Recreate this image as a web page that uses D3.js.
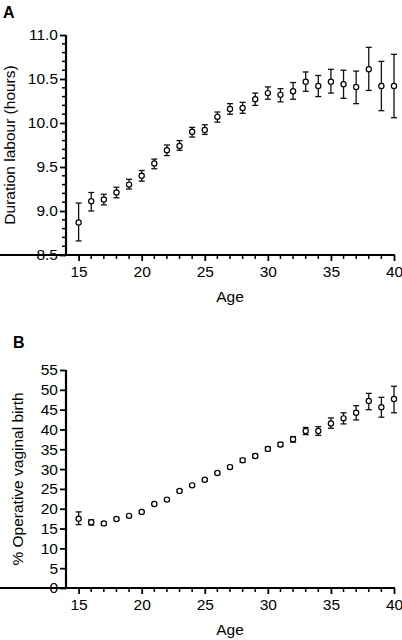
<!DOCTYPE html>
<html><head><meta charset="utf-8">
<script src="https://cdn.jsdelivr.net/npm/d3@7"></script>
<style>body{margin:0;background:#fff}svg{display:block;font-family:"Liberation Sans",Arial,sans-serif}</style>
</head><body><svg id="c" width="402" height="640"></svg>
<script>
const ages = [15,16,17,18,19,20,21,22,23,24,25,26,27,28,29,30,31,32,33,34,35,36,37,38,39,40];
const durMean = [8.87,9.11,9.13,9.21,9.30,9.40,9.54,9.69,9.74,9.90,9.92,10.07,10.16,10.17,10.27,10.34,10.32,10.36,10.47,10.42,10.47,10.44,10.41,10.61,10.42,10.42];
const durLow  = [8.66,9.00,9.07,9.15,9.25,9.34,9.48,9.63,9.69,9.84,9.87,10.01,10.10,10.11,10.20,10.27,10.24,10.27,10.36,10.30,10.34,10.28,10.22,10.37,10.14,10.06];
const durHigh = [9.09,9.21,9.19,9.27,9.36,9.46,9.59,9.75,9.80,9.95,9.98,10.125,10.22,10.235,10.34,10.41,10.39,10.46,10.58,10.54,10.61,10.60,10.59,10.86,10.70,10.78];
const ovbMean = [17.5,16.6,16.3,17.4,18.2,19.2,21.2,22.3,24.5,25.9,27.3,29.0,30.5,32.2,33.3,35.1,36.2,37.5,39.6,39.6,41.5,42.8,44.2,47.2,45.6,47.7];
const ovbLow  = [16.0,15.9,16.0,17.1,17.9,18.9,20.9,22.0,24.2,25.6,27.0,28.7,30.1,31.7,32.8,34.6,35.7,36.8,38.7,38.5,40.3,41.4,42.4,45.0,43.1,44.2];
const ovbHigh = [19.2,17.2,16.6,17.7,18.5,19.5,21.5,22.6,24.8,26.2,27.6,29.3,30.9,32.7,33.8,35.6,36.7,38.2,40.5,40.7,42.9,44.2,46.0,49.1,48.1,50.9];
const xMajor = [15,20,25,30,35,40];
const durTicks = [8.5,9.0,9.5,10.0,10.5,11.0];
const ovbTicks = [0,5,10,15,20,25,30,35,40,45,50,55];

const svg = d3.select("#c");
const x = d3.scaleLinear().domain([14,40]).range([66,394]);

function panel(opts){
  const y = d3.scaleLinear().domain(opts.domain).range([opts.bottom, opts.top]);
  const g = svg.append("g");
  if (opts.minorY){
    g.selectAll(".my").data(opts.minorY).join("line")
      .attr("x1",62).attr("x2",66).attr("y1",d=>y(d)).attr("y2",d=>y(d))
      .attr("stroke","#000").attr("stroke-width",1.5);
  }
  const minorX = d3.range(16,40).filter(v=>v%5!==0);
  g.selectAll(".mx").data(minorX).join("line")
    .attr("x1",d=>x(d)).attr("x2",d=>x(d)).attr("y1",opts.bottom).attr("y2",opts.bottom+4)
    .attr("stroke","#000").attr("stroke-width",1.5);
  const yAxis = d3.axisLeft(y).tickValues(opts.ticks).tickSize(6).tickSizeOuter(0).tickPadding(2).tickFormat(opts.fmt);
  const ya = g.append("g").attr("transform","translate(66,0)").call(yAxis);
  const xAxis = d3.axisBottom(x).tickValues(xMajor).tickSize(6).tickSizeOuter(0).tickPadding(4);
  const xa = g.append("g").attr("transform",`translate(0,${opts.bottom})`).call(xAxis);
  [ya,xa].forEach(a=>{
    a.select(".domain").attr("stroke","#000").attr("stroke-width",2.2);
    a.selectAll(".tick line").attr("stroke","#000").attr("stroke-width",1.8);
    a.selectAll(".tick text").attr("fill","#000").style("font-size","15.5px").style("font-family","'Liberation Sans',Arial,sans-serif");
  });
  ya.select(".domain").attr("d",`M0,${opts.top}V${opts.bottom+1}`);
  xa.select(".domain").attr("d",`M-1,0H${x(40)+1}`);
  xa.selectAll(".tick text").attr("dy","0.8em");
  const data = ages.map((a,i)=>({a, m:opts.mean[i], lo:opts.low[i], hi:opts.high[i]}));
  const eb = g.append("g").attr("stroke","#111").attr("stroke-width",1.3);
  eb.selectAll(".v").data(data).join("line")
    .attr("x1",d=>x(d.a)).attr("x2",d=>x(d.a)).attr("y1",d=>y(d.lo)).attr("y2",d=>y(d.hi));
  eb.selectAll(".t").data(data).join("line")
    .attr("x1",d=>x(d.a)-3).attr("x2",d=>x(d.a)+3).attr("y1",d=>y(d.hi)).attr("y2",d=>y(d.hi));
  eb.selectAll(".b").data(data).join("line")
    .attr("x1",d=>x(d.a)-3).attr("x2",d=>x(d.a)+3).attr("y1",d=>y(d.lo)).attr("y2",d=>y(d.lo));
  g.append("g").selectAll("circle").data(data).join("circle")
    .attr("cx",d=>x(d.a)).attr("cy",d=>y(d.m)).attr("r",2.6)
    .attr("fill","#fff").attr("stroke","#000").attr("stroke-width",1.2);
  svg.append("text").attr("x",x(27)).attr("y",opts.bottom+47).attr("text-anchor","middle")
    .style("font-size","15.5px").text("Age");
  svg.append("text").attr("transform",`translate(${opts.ylx},${(opts.top+opts.bottom)/2}) rotate(-90)`)
    .attr("text-anchor","middle").attr("dy","0.35em").style("font-size","15.5px").text(opts.ylabel);
  svg.append("text").attr("x",opts.lx).attr("y",opts.ly).style("font-size","16px").style("font-weight","bold").text(opts.letter);
}

panel({domain:[8.5,11.0], top:35, bottom:255, ticks:durTicks, fmt:d3.format(".1f"),
  minorY:d3.range(86,110).filter(v=>v%5!==0).map(v=>v/10),
  mean:durMean, low:durLow, high:durHigh, ylabel:"Duration labour (hours)", ylx:10,
  letter:"A", lx:3, ly:18});
panel({domain:[0,55], top:370, bottom:588, ticks:ovbTicks, fmt:d3.format("d"),
  minorY:null, mean:ovbMean, low:ovbLow, high:ovbHigh, ylabel:"% Operative vaginal birth", ylx:18,
  letter:"B", lx:13, ly:348});
</script></body></html>
